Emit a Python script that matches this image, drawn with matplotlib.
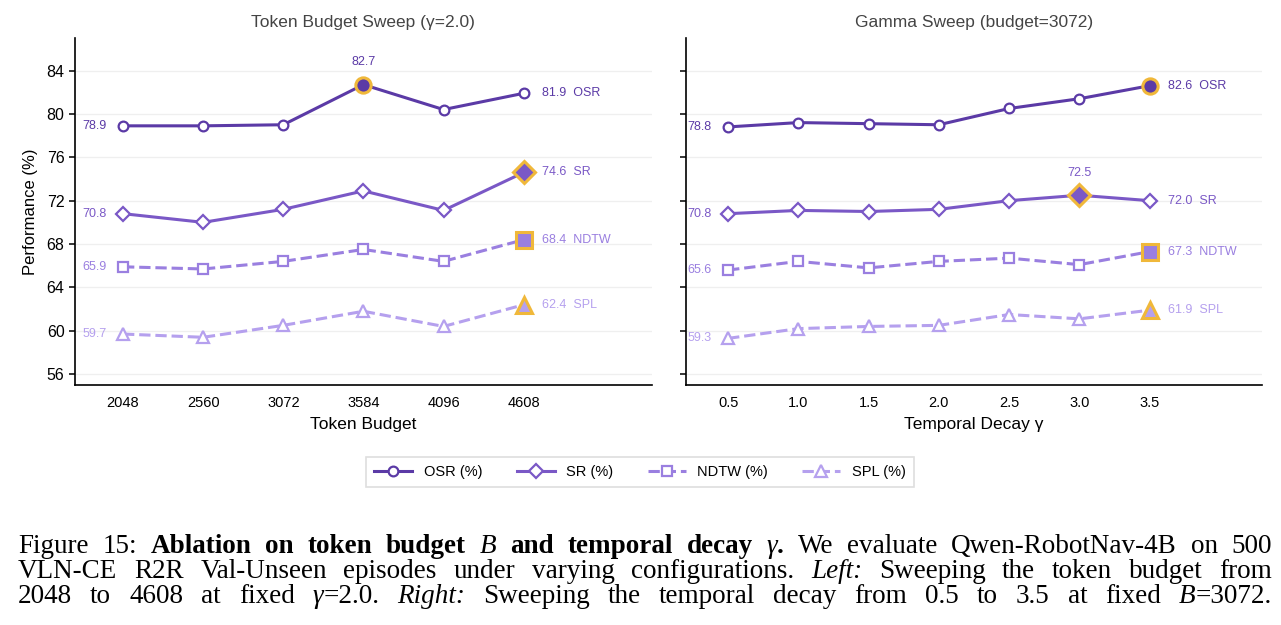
import numpy as np
import matplotlib
matplotlib.use("Agg")
import matplotlib.pyplot as plt

plt.rcParams['font.family'] = ['Liberation Sans', 'DejaVu Sans']

# data
budgets = ["2048", "2560", "3072", "3584", "4096", "4608"]
osr_b = [78.9, 78.9, 79.0, 82.7, 80.4, 81.9]
sr_b = [70.8, 70.0, 71.2, 72.9, 71.1, 74.6]
ndtw_b = [65.9, 65.7, 66.4, 67.5, 66.4, 68.4]
spl_b = [59.7, 59.4, 60.5, 61.8, 60.4, 62.4]

gammas = ["0.5", "1.0", "1.5", "2.0", "2.5", "3.0", "3.5"]
osr_g = [78.8, 79.2, 79.1, 79.0, 80.5, 81.4, 82.6]
sr_g = [70.8, 71.1, 71.0, 71.2, 72.0, 72.5, 72.0]
ndtw_g = [65.6, 66.4, 65.8, 66.4, 66.7, 66.1, 67.3]
spl_g = [59.3, 60.2, 60.4, 60.5, 61.5, 61.1, 61.9]

names = ["OSR", "SR", "NDTW", "SPL"]
colors = ["#5b3aa6", "#7a58c6", "#9a7fe0", "#b5a0ee"]
markers = ["o", "D", "s", "^"]
styles = ["-", "-", "--", "--"]
msizes = [7, 7.5, 7.5, 8]
gold = "#f0b83a"

yticks = [56, 60, 64, 68, 72, 76, 80, 84]

fig = plt.figure(figsize=(12.81, 6.25), dpi=100)
ax1 = fig.add_axes([0.0585, 0.384, 0.4504, 0.5552])
ax2 = fig.add_axes([0.5355, 0.384, 0.4497, 0.5552])


def panel(ax, xlabels, series, title, xlabel, show_ylabels):
    x = np.arange(len(xlabels))
    handles = []
    for k, vals in enumerate(series):
        c = colors[k]
        h, = ax.plot(x, vals, linestyle=styles[k], color=c, lw=2.2,
                     marker=markers[k], ms=msizes[k], mfc="white", mec=c,
                     mew=1.6, zorder=3, label=names[k] + " (%)")
        handles.append(h)
        best = int(np.argmax(vals))
        ax.plot(x[best], vals[best], linestyle="none", marker=markers[k],
                ms=msizes[k] + 4, mfc=c, mec=gold, mew=2.2, zorder=4)
        ax.annotate(f"{vals[0]:.1f}", (x[0], vals[0]), xytext=(-12, 0),
                    textcoords="offset points", ha="right", va="center",
                    fontsize=9, color=c)
        ax.annotate(f"{vals[-1]:.1f}  {names[k]}", (x[-1], vals[-1]),
                    xytext=(13, 0), textcoords="offset points", ha="left",
                    va="center", fontsize=9, color=c)
        if best != len(vals) - 1:
            ax.annotate(f"{vals[best]:.1f}", (x[best], vals[best]),
                        xytext=(0, 16), textcoords="offset points",
                        ha="center", va="center", fontsize=9, color=c)
    ax.set_xlim(-0.6, len(xlabels) - 1 + 1.6)
    ax.set_ylim(55, 87)
    ax.set_xticks(x)
    ax.set_xticklabels(xlabels, fontsize=10.5)
    ax.set_yticks(yticks)
    if show_ylabels:
        ax.set_yticklabels([str(t) for t in yticks], fontsize=11.5)
        ax.set_ylabel("Performance (%)", fontsize=12, labelpad=6)
    else:
        ax.set_yticklabels([])
    ax.set_xlabel(xlabel, fontsize=12.5, labelpad=5)
    ax.set_title(title, fontsize=12.5, color="#444444", pad=8)
    ax.grid(axis="y", color="#efefef", lw=0.9, zorder=0)
    ax.set_axisbelow(True)
    for s in ["top", "right"]:
        ax.spines[s].set_visible(False)
    for s in ["left", "bottom"]:
        ax.spines[s].set_linewidth(1.2)
    ax.tick_params(axis="both", length=4, width=1.1, direction="out")
    ax.tick_params(axis="x", length=0, pad=8)
    return handles


handles = panel(ax1, budgets, [osr_b, sr_b, ndtw_b, spl_b],
                "Token Budget Sweep (γ=2.0)", "Token Budget", True)
panel(ax2, gammas, [osr_g, sr_g, ndtw_g, spl_g],
      "Gamma Sweep (budget=3072)", "Temporal Decay γ", False)

leg = fig.legend(handles=handles, loc="center", bbox_to_anchor=(0.4996, 0.2448),
                 ncol=4, fontsize=10.5, frameon=True, fancybox=False,
                 handlelength=2.6, columnspacing=2.35, borderpad=0.55,
                 edgecolor="#d6d6d6")
leg.get_frame().set_linewidth(1.2)

# caption, justified word by word
caption = [
    [("Figure 15: ", "r"), ("Ablation on token budget ", "b"), ("B", "i"),
     (" and temporal decay ", "b"), ("γ", "i"), (".", "b"),
     (" We evaluate Qwen-RobotNav-4B on 500", "r")],
    [("VLN-CE R2R Val-Unseen episodes under varying configurations. ", "r"),
     ("Left:", "i"), (" Sweeping the token budget from", "r")],
    [("2048 to 4608 at fixed ", "r"), ("γ", "i"), ("=2.0. ", "r"),
     ("Right:", "i"), (" Sweeping the temporal decay from 0.5 to 3.5 at fixed ", "r"),
     ("B", "i"), ("=3072.", "r")],
]
cap_x0, cap_x1 = 18, 1272
cap_y = [553, 578, 603]
fstyle = {"r": ("normal", "normal"), "b": ("bold", "normal"),
          "i": ("normal", "italic")}

renderer = fig.canvas.get_renderer()
W, H = fig.get_size_inches() * fig.dpi
for li, runs in enumerate(caption):
    words = [[]]
    for txt, sty in runs:
        parts = txt.split(" ")
        for i, p in enumerate(parts):
            if i > 0:
                words.append([])
            if p:
                words[-1].append((p, sty))
    words = [w for w in words if w]
    placed = []
    total = 0
    for w in words:
        segs = []
        ww = 0
        for p, sty in w:
            wt, st = fstyle[sty]
            t = fig.text(0, 1 - cap_y[li] / H, p, fontsize=19.5,
                         family=["Liberation Serif", "DejaVu Serif"],
                         weight=wt, style=st, va="baseline", ha="left")
            bb = t.get_window_extent(renderer)
            segs.append((t, bb.width))
            ww += bb.width
        placed.append(segs)
        total += ww
    gap = (cap_x1 - cap_x0 - total) / (len(words) - 1)
    xpos = cap_x0
    for segs in placed:
        for t, wd in segs:
            t.set_x(xpos / W)
            xpos += wd
        xpos += gap

fig.savefig("out.png", dpi=100)
